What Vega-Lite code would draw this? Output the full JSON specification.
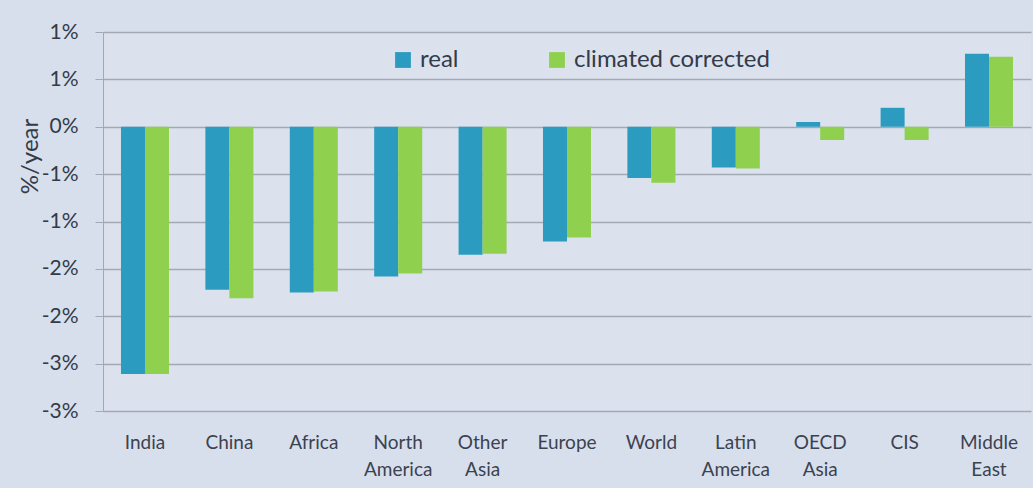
{
  "$schema": "https://vega.github.io/schema/vega-lite/v6.json",
  "autosize": "none",
  "width": 928,
  "height": 379,
  "padding": {"left": 103, "top": 32, "right": 2, "bottom": 77},
  "background": "#d8dfec",
  "config": {
    "view": {"stroke": null, "fill": "#dbe2ee"},
    "font": "Lato"
  },
  "data": {
    "values": [
      {"region": "India", "series": "real", "value": -2.61},
      {"region": "India", "series": "climated corrected", "value": -2.61},
      {"region": "China", "series": "real", "value": -1.72},
      {"region": "China", "series": "climated corrected", "value": -1.81},
      {"region": "Africa", "series": "real", "value": -1.75},
      {"region": "Africa", "series": "climated corrected", "value": -1.74},
      {"region": "North America", "series": "real", "value": -1.58},
      {"region": "North America", "series": "climated corrected", "value": -1.55},
      {"region": "Other Asia", "series": "real", "value": -1.35},
      {"region": "Other Asia", "series": "climated corrected", "value": -1.34},
      {"region": "Europe", "series": "real", "value": -1.21},
      {"region": "Europe", "series": "climated corrected", "value": -1.17},
      {"region": "World", "series": "real", "value": -0.54},
      {"region": "World", "series": "climated corrected", "value": -0.59},
      {"region": "Latin America", "series": "real", "value": -0.43},
      {"region": "Latin America", "series": "climated corrected", "value": -0.44},
      {"region": "OECD Asia", "series": "real", "value": 0.05},
      {"region": "OECD Asia", "series": "climated corrected", "value": -0.14},
      {"region": "CIS", "series": "real", "value": 0.2},
      {"region": "CIS", "series": "climated corrected", "value": -0.14},
      {"region": "Middle East", "series": "real", "value": 0.77},
      {"region": "Middle East", "series": "climated corrected", "value": 0.74}
    ]
  },
  "mark": {"type": "bar"},
  "encoding": {
    "x": {
      "field": "region",
      "type": "nominal",
      "sort": null,
      "scale": {"paddingInner": 0.431, "paddingOuter": 0.213},
      "axis": {
        "title": null,
        "labelAngle": 0,
        "labelExpr": "split(datum.value, ' ')",
        "labelFont": "Lato",
        "labelFontSize": 19,
        "labelColor": "#3b4250",
        "labelLineHeight": 27,
        "labelPadding": 22,
        "ticks": false,
        "domain": false,
        "labelBaseline": "top"
      }
    },
    "xOffset": {
      "field": "series",
      "type": "nominal",
      "sort": ["real", "climated corrected"]
    },
    "y": {
      "field": "value",
      "type": "quantitative",
      "scale": {"domain": [-3, 1], "nice": false, "zero": false},
      "axis": {
        "values": [-3, -2.5, -2, -1.5, -1, -0.5, 0, 0.5, 1],
        "labelExpr": "(datum.value < 0 ? '-' : '') + round(abs(datum.value)) + '%'",
        "labelFont": "Lato",
        "labelFontSize": 21,
        "labelColor": "#333b48",
        "labelPadding": 17,
        "tickSize": 8,
        "tickColor": "#a3a9b3",
        "domainColor": "#a3a9b3",
        "gridColor": "#a3a9b3",
        "gridWidth": 1.5,
        "title": "%/year",
        "titleFont": "Lato",
        "titleFontSize": 24,
        "titleFontWeight": "normal",
        "titleColor": "#333b48",
        "titleX": -61,
        "titleY": 124,
        "titleAnchor": "middle"
      }
    },
    "color": {
      "field": "series",
      "type": "nominal",
      "sort": ["real", "climated corrected"],
      "scale": {"domain": ["real", "climated corrected"], "range": ["#2b9bc0", "#8fd04e"]},
      "legend": {
        "title": null,
        "orient": "none",
        "legendX": 288,
        "legendY": 16,
        "direction": "horizontal",
        "symbolType": "square",
        "symbolSize": 250,
        "symbolStrokeWidth": 0,
        "labelFont": "Lato",
        "labelFontSize": 24,
        "labelLimit": 400,
        "labelColor": "#333b48",
        "columnPadding": 86,
        "labelOffset": 5
      }
    }
  }
}
